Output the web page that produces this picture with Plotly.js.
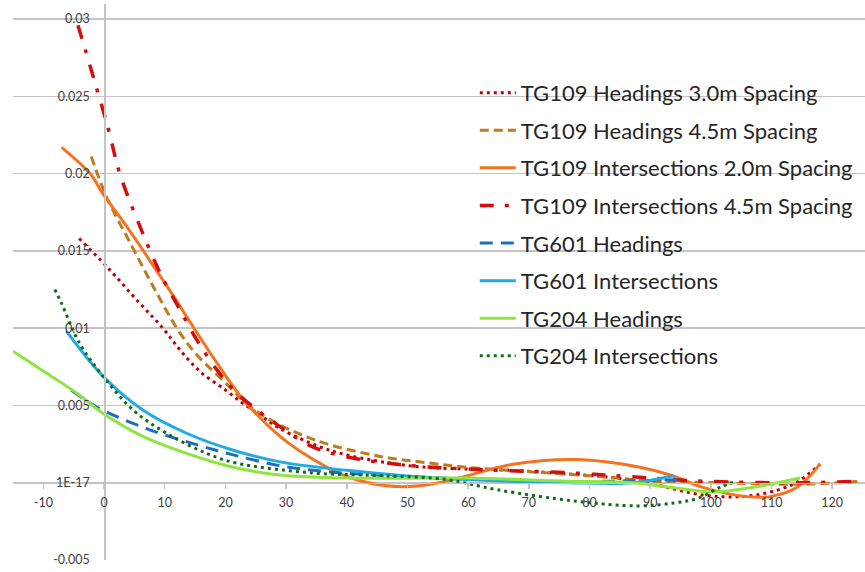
<!DOCTYPE html>
<html>
<head>
<meta charset="utf-8">
<script src="https://cdn.plot.ly/plotly-3.0.1.min.js"></script>
<style>html,body{margin:0;padding:0;background:#fff;}#chart{width:865px;height:572px;}</style>
</head>
<body>
<div id="chart"></div>
<script>
// Series names
const seriesNames = [
  "TG109 Headings 3.0m Spacing",
  "TG109 Headings 4.5m Spacing",
  "TG109 Intersections 2.0m Spacing",
  "TG109 Intersections 4.5m Spacing",
  "TG601 Headings",
  "TG601 Intersections",
  "TG204 Headings",
  "TG204 Intersections"
];

// TG109 Headings 3.0m Spacing
const h109_30_x = [-4.1, 0.4, 5.9, 9.7, 12.5, 15.8, 20, 23, 26, 29, 37.2, 46.6, 54, 65, 73.5, 84.5, 90.5, 98.7, 104.8, 109.8, 114, 118];
const h109_30_y = [0.0158, 0.0140, 0.0116, 0.0100, 0.0086, 0.0072, 0.0060, 0.0051, 0.0043, 0.0035, 0.0021, 0.0013, 0.00097, 0.00084, 0.00065, 0.0003, -0.0001, -0.0008, -0.0009, -0.0006, 0.0000, 0.0012];

// TG109 Headings 4.5m Spacing
const h109_45_x = [-2.1, 0.4, 4.2, 8.1, 12, 15, 19.4, 25.2, 34.5, 45.5, 51, 59.8, 70.7, 81.7, 90.5, 101.5, 114.7, 125];
const h109_45_y = [0.0211, 0.0185, 0.0156, 0.0127, 0.0100, 0.0084, 0.0067, 0.0046, 0.0028, 0.0017, 0.0014, 0.0010, 0.0007, 0.0004, 0.0001, 0.0000, -0.0001, 0.0001];

// TG109 Intersections 2.0m Spacing
const i109_20_x = [-7, -2.3, -0.2, 3.7, 7.5, 11.4, 14, 18, 22.9, 29, 34.5, 40, 46.6, 52, 57.5, 67.4, 77.9, 88.3, 93.3, 98.7, 106, 109.8, 114.2, 118];
const i109_20_y = [0.0217, 0.0200, 0.0187, 0.0166, 0.0144, 0.0121, 0.0105, 0.0081, 0.0054, 0.0030, 0.0015, 0.0004, -0.0002, -0.0002, 0.0002, 0.0012, 0.0015, 0.0010, 0.0005, -0.0003, -0.0009, -0.0009, -0.0003, 0.0012];

// TG109 Intersections 4.5m Spacing
const i109_45_x = [-4.3, -1.8, 0.7, 2.6, 5.9, 9.2, 12.5, 15.2, 18.6, 21.9, 27.3, 34.5, 41, 48.2, 54.2, 65, 76.3, 86.2, 98.7, 115, 124];
const i109_45_y = [0.0296, 0.0263, 0.0229, 0.0200, 0.0166, 0.0136, 0.0112, 0.0093, 0.0073, 0.0058, 0.0041, 0.0023, 0.0016, 0.0012, 0.0010, 0.0008, 0.00065, 0.0004, 0.0001, 0.0000, 0.0001];

// TG601 Headings
const h601_x = [-5.4, -1.2, 7.0, 15.8, 21.3, 29, 37.2, 50, 60, 70.7, 84.5, 95];
const h601_y = [0.0060, 0.0049, 0.0035, 0.0024, 0.0018, 0.0011, 0.0007, 0.0004, 0.00025, 0.0001, 0.0001, 0.0002];

// TG601 Intersections
const i601_x = [-6.2, -0.2, 6.4, 13.6, 21.3, 29, 40, 51, 59.8, 76.3, 87.2, 93.8];
const i601_y = [0.0098, 0.0069, 0.0047, 0.0032, 0.0021, 0.00135, 0.0008, 0.0004, 0.0002, 0.0000, 0.0000, 0.00045];

// TG204 Headings
const h204_x = [-15, -9.5, -4.5, -0.2, 6.4, 13.6, 21.3, 29, 40, 59.8, 76.3, 87.2, 93.3, 100.4, 107, 114.7];
const h204_y = [0.0085, 0.0071, 0.0058, 0.0045, 0.0030, 0.0019, 0.0010, 0.0005, 0.0003, 0.0003, 0.0001, 0.0000, -0.0003, -0.0006, -0.0003, 0.0003];

// TG204 Intersections
const i204_x = [-8.1, -7, -4, -0.2, 4.8, 10.3, 16.9, 21.8, 34.5, 45.5, 56.5, 64.7, 77.9, 88, 94.1, 97.9, 101.5, 104.3];
const i204_y = [0.0125, 0.0116, 0.0090, 0.0069, 0.0047, 0.0032, 0.0019, 0.00127, 0.00063, 0.00046, 0.0002, -0.00045, -0.0012, -0.0015, -0.0013, -0.0010, -0.0003, 0.0001];

// Axis ticks
const xTickVals = [-10, 0, 10, 20, 30, 40, 50, 60, 70, 80, 90, 100, 110, 120];
const yTickVals = [-0.005, 0, 0.005, 0.01, 0.015, 0.02, 0.025, 0.03];
const yTickText = ["-0.005", "1E-17", "0.005", "0.01", "0.015", "0.02", "0.025", "0.03"];

const xs = [h109_30_x, h109_45_x, i109_20_x, i109_45_x, h601_x, i601_x, h204_x, i204_x];
const ys = [h109_30_y, h109_45_y, i109_20_y, i109_45_y, h601_y, i601_y, h204_y, i204_y];
const styles = [
  {color: "#C00000", width: 3, dash: "3px,4px"},
  {color: "#C07A1C", width: 3, dash: "9px,5px"},
  {color: "#F5731E", width: 3, dash: "solid"},
  {color: "#D20F0F", width: 3.5, dash: "14px,11px,4px,12px"},
  {color: "#1F6EBD", width: 3, dash: "13px,8px"},
  {color: "#1EABE6", width: 3, dash: "solid"},
  {color: "#8EE53F", width: 3, dash: "solid"},
  {color: "#146B17", width: 3, dash: "3px,4px"}
];

const traces = seriesNames.map((n, i) => ({
  type: "scatter", mode: "lines", name: n,
  x: xs[i], y: ys[i],
  line: Object.assign({shape: "spline", smoothing: 1}, styles[i]),
  legendgroup: "g" + i
}));

const gridC = "#c4c4c4";
const layout = {
  width: 865, height: 572,
  margin: {l: 13, r: 0, t: 4, b: 12},
  paper_bgcolor: "#ffffff", plot_bgcolor: "#ffffff",
  font: {family: "Lato, 'Open Sans', sans-serif", color: "#404040"},
  showlegend: true,
  legend: {
    x: 0.542, y: 0.878, xanchor: "left", yanchor: "top",
    bgcolor: "rgba(0,0,0,0)", borderwidth: 0,
    font: {size: 22, color: "#262626", family: "Lato, 'Open Sans', sans-serif"},
    itemwidth: 36, traceorder: "grouped", tracegroupgap: 6
  },
  xaxis: {
    range: [-15, 125.4], tickvals: xTickVals, ticktext: xTickVals.map(String),
    anchor: "free", position: 0.1385,
    showline: true, linecolor: gridC, linewidth: 1.5,
    ticks: "outside", ticklen: 5, tickcolor: gridC, tickwidth: 1.5,
    ticklabelstandoff: 3,
    showgrid: false, zeroline: false,
    tickfont: {size: 12.5, color: "#404040"}
  },
  yaxis: {
    range: [-0.005, 0.03097], tickvals: yTickVals, ticktext: yTickText,
    anchor: "free", position: 0.1071,
    showline: true, linecolor: gridC, linewidth: 1.5,
    showgrid: true, gridcolor: gridC, gridwidth: 1.5,
    zeroline: false, ticks: "", ticklabelstandoff: 12,
    tickfont: {size: 12.5, color: "#404040"}
  }
};

Plotly.newPlot("chart", traces, layout, {displayModeBar: false, staticPlot: true});
</script>
</body>
</html>
